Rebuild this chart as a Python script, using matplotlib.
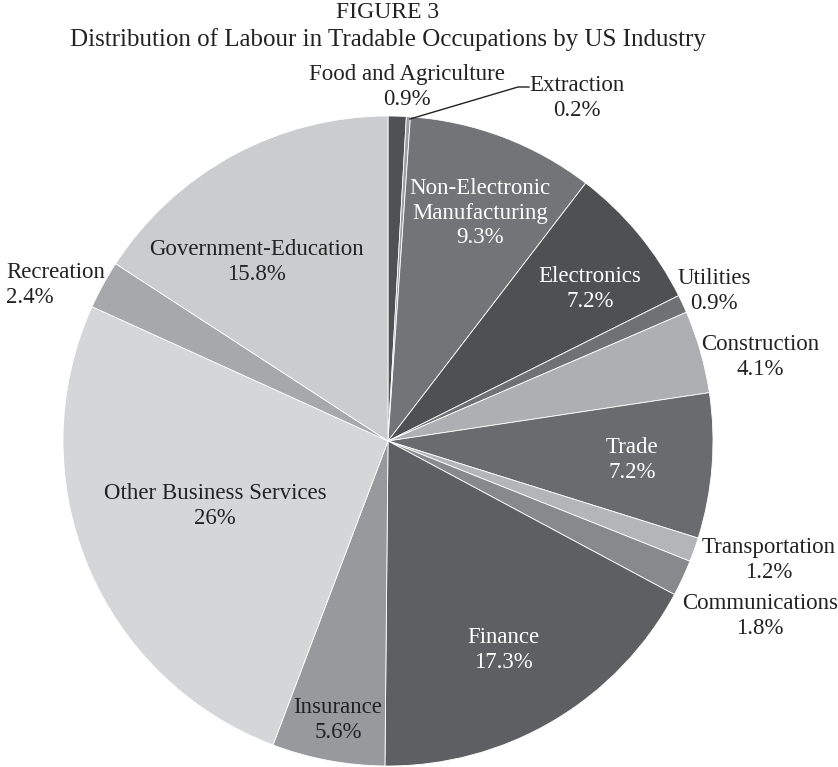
import matplotlib.pyplot as plt

plt.rcParams['font.family'] = ['Liberation Serif', 'DejaVu Serif']

# Share of labour in tradable occupations, clockwise from 12 o'clock
industries = ['Food and Agriculture', 'Extraction', 'Non-Electronic\nManufacturing',
              'Electronics', 'Utilities', 'Construction', 'Trade', 'Transportation',
              'Communications', 'Finance', 'Insurance', 'Other Business Services',
              'Recreation', 'Government-Education']
shares = [0.9, 0.2, 9.3, 7.2, 0.9, 4.1, 7.2, 1.2, 1.8, 17.3, 5.6, 26, 2.4, 15.8]
share_labels = ['0.9%', '0.2%', '9.3%', '7.2%', '0.9%', '4.1%', '7.2%', '1.2%',
                '1.8%', '17.3%', '5.6%', '26%', '2.4%', '15.8%']
greys = ['#505153', '#9c9da0', '#737477', '#4f5052', '#707174', '#aeafb2', '#6a6b6e',
         '#b4b5b8', '#88898c', '#5e5f62', '#98999c', '#d5d6d8', '#a7a8ab', '#cbccce']

# label placement in pixel coords (x, y from top), colour, alignment
label_pos = [(407, 87, '#222222', 'center'), (577, 98, '#222222', 'center'),
             (480, 213, 'white', 'center'), (590, 289, 'white', 'center'),
             (714, 291, '#222222', 'center'), (760, 357, '#222222', 'center'),
             (632, 460, 'white', 'center'), (769, 560, '#222222', 'center'),
             (760, 616, '#222222', 'center'), (503, 650, 'white', 'center'),
             (338, 720, '#222222', 'center'), (215, 506, '#222222', 'center'),
             (6, 285, '#222222', 'left'), (256, 262, '#222222', 'center')]

W, H = 838, 767
fig = plt.figure(figsize=(W / 100, H / 100), dpi=100)
ax = fig.add_axes([0, 0, 1, 1])

cx, cy, r = 388, H - 441, 325
ax.pie(shares, colors=greys, startangle=90, counterclock=False,
       center=(cx, cy), radius=r, frame=True,
       wedgeprops=dict(edgecolor='white', linewidth=0.6))
ax.set_xlim(0, W)
ax.set_ylim(0, H)
ax.axis('off')

fs = 16.5
for name, pct, (x, y, col, ha) in zip(industries, share_labels, label_pos):
    ax.text(x, H - y, f'{name}\n{pct}', ha=ha, va='center', color=col,
            fontsize=fs, linespacing=1.2, multialignment=ha)

# leader line for the thin Extraction slice
ax.plot([529, 518, 410], [H - 87, H - 87, H - 119], color='#222222', lw=1)

ax.text(cx, H - 13, 'FIGURE 3', ha='center', va='center', fontsize=17, color='#222222')
ax.text(cx, H - 40, 'Distribution of Labour in Tradable Occupations by US Industry',
        ha='center', va='center', fontsize=18, color='#222222')

fig.savefig('out.png', dpi=100)
